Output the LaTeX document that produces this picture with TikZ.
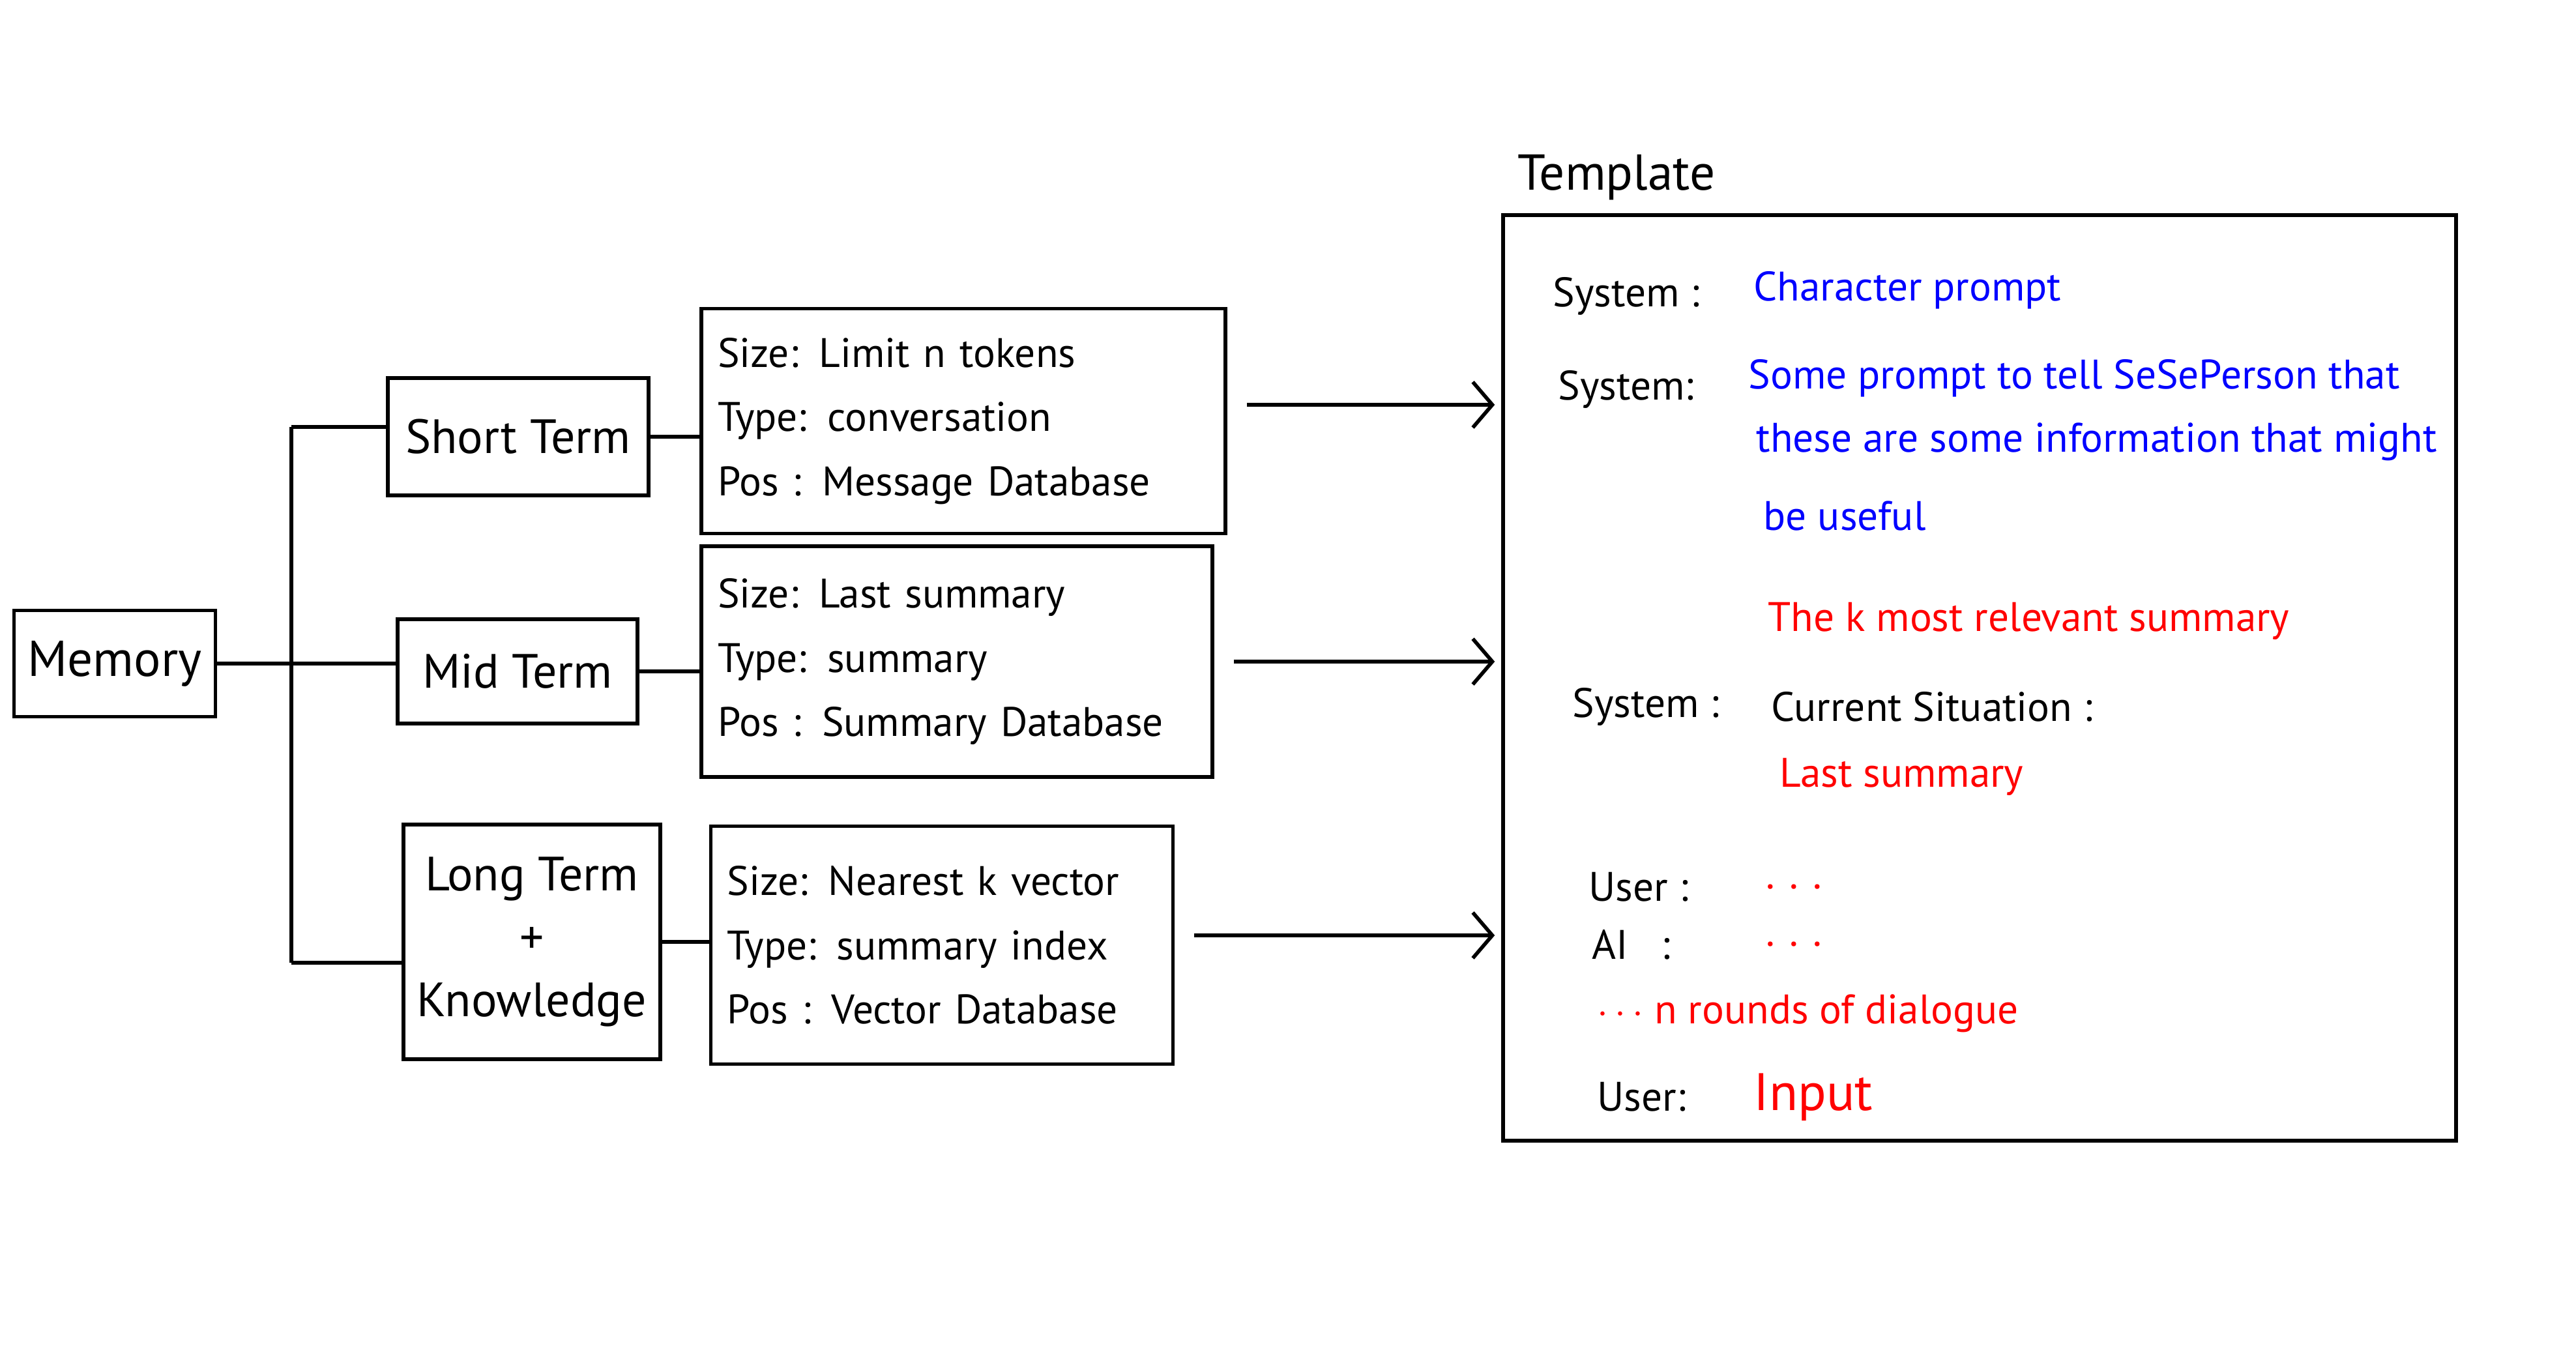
\documentclass[tikz,border=0pt]{standalone}
\usepackage{fontspec}
\setmainfont{PT Sans}
\usetikzlibrary{arrows.meta,positioning}

\begin{document}
\begin{tikzpicture}[
  box/.style={draw, line width=1.6pt, inner sep=6pt},
  term/.style={box, align=center, font=\fontsize{21}{27}\selectfont},
  info/.style={box, align=left, inner sep=0.25cm, font=\fontsize{18}{28}\selectfont},
  tline/.style={anchor=west, inner sep=0pt, font=\fontsize{18}{24}\selectfont},
  conn/.style={line width=1.6pt},
  arr/.style={conn, -{Straight Barb[length=3mm,width=7mm]}, shorten <=0.3cm, shorten >=0.1cm}
]
\useasboundingbox (0,0) rectangle (39.52,-20.88);

% Memory and its three parts
\node[term, minimum width=3.03cm, minimum height=1.63cm, font=\fontsize{22}{30}\selectfont] (memory) at (1.76,-10.18) {Memory};
\node[term, minimum width=4.0cm, minimum height=1.8cm] (short) at (7.95,-6.70) {Short Term};
\node[term, minimum width=3.68cm, minimum height=1.6cm] (mid) at (7.94,-10.30) {Mid Term};
\node[term, minimum width=3.83cm, minimum height=3.6cm, font=\fontsize{21}{27.5}\selectfont] (long) at (8.16,-14.45) {Long Term\\+\\Knowledge};

% Bus from memory to the parts
\coordinate (busS) at (4.47,-6.55);
\coordinate (busL) at (4.47,-14.77);
\draw[conn] (busS) -- (busL);
\draw[conn] (busS) -- (busS -| short.west);
\draw[conn] (busL) -- (busL -| long.west);
\draw[conn] (memory.east) -- (memory.east -| mid.west);

% Info boxes
\node[info, text width=7.54cm, minimum height=3.45cm] (shortinfo) at (14.78,-6.46)
  {Size: Limit n tokens\\Type: conversation\\Pos : Message Database};
\node[info, text width=7.34cm, minimum height=3.54cm] (midinfo) at (14.68,-10.15)
  {Size: Last summary\\Type: summary\\Pos : Summary Database};
\node[info, text width=6.59cm, minimum height=3.65cm] (longinfo) at (14.45,-14.50)
  {Size: Nearest k vector\\Type: summary index\\Pos : Vector Database};

\draw[conn] (short.east) -- (short.east -| shortinfo.west);
\draw[conn] (mid.east) -- (mid.east -| midinfo.west);
\draw[conn] (long.east) -- (long.east -| longinfo.west);

% Template box
\node[box, minimum width=14.62cm, minimum height=14.2cm] (template) at (30.37,-10.40) {};
\node[font=\fontsize{22}{30}\selectfont] (title) at (24.80,-2.72) {Template};

\coordinate (a1) at ([yshift=0.25cm]shortinfo.east);
\coordinate (a3) at ([yshift=0.15cm]longinfo.east);
\draw[arr] (a1) -- (a1 -| template.west);
\draw[arr] (midinfo.east) -- (midinfo.east -| template.west);
\draw[arr] (a3) -- (a3 -| template.west);

% Template contents
\node[tline] (sys1) at (23.82,-4.54) {System :};
\node[tline, blue] (charp) at (26.90,-4.45) {Character prompt};
\node[tline] (sys2) at (23.90,-5.97) {System:};
\node[tline, blue] (some1) at (26.82,-5.80) {Some prompt to tell SeSePerson that};
\node[tline, blue] (some2) at (26.94,-6.78) {these are some information that might};
\node[tline, blue] (some3) at (27.05,-7.92) {be useful};
\node[tline, red] (kmost) at (27.12,-9.53) {The k most relevant summary};
\node[tline] (sys3) at (24.12,-10.84) {System :};
\node[tline] (current) at (27.17,-10.84) {Current Situation :};
\node[tline, red] (last) at (27.30,-11.92) {Last summary};
\node[tline] (user1) at (24.37,-13.61) {User :};
\node[tline, red] (dots1) at (27.09,-13.61) {. . .};
\node[tline] (ai) at (24.42,-14.49) {AI \ \ :};
\node[tline, red] (dots2) at (27.09,-14.49) {. . .};
\node[tline, red] (rounds) at (24.50,-15.55) {$\cdots$ n rounds of dialogue};
\node[tline] (user2) at (24.50,-16.83) {User:};
\node[tline, red, font=\fontsize{23}{28}\selectfont] (input) at (26.90,-16.83) {Input};
\end{tikzpicture}
\end{document}
